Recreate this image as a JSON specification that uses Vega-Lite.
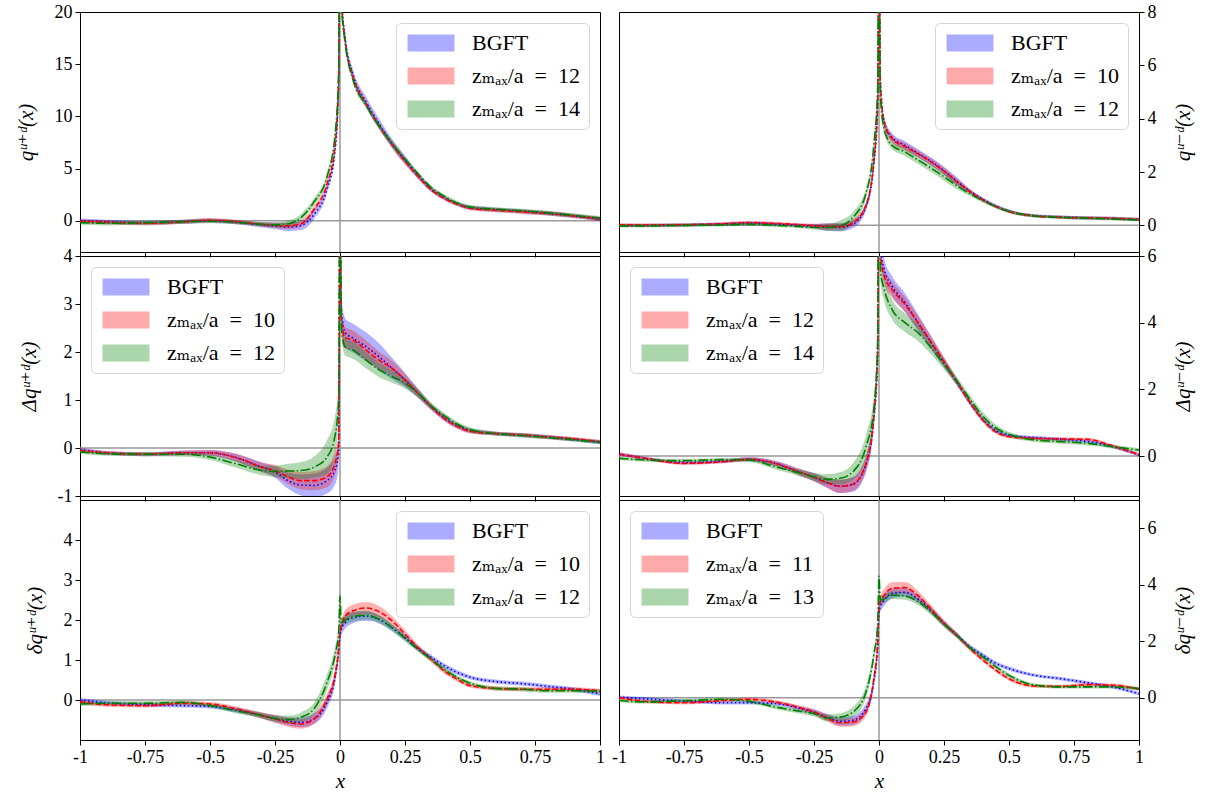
{
"$schema": "https://vega.github.io/schema/vega-lite/v6.json",
"background": "white",
"padding": {"left": 14, "top": 2, "right": 5, "bottom": 5},
"columns": 2,
"spacing": {"row": 4, "column": 19},
"bounds": "flush",
"resolve": {"scale": {"x": "independent", "y": "independent", "fill": "independent", "stroke": "independent", "strokeDash": "independent"}, "axis": {"x": "independent", "y": "independent"}, "legend": {"fill": "independent"}},
"config": {
  "font": "Liberation Serif, DejaVu Serif, serif",
  "view": {"stroke": "#000", "strokeWidth": 1},
  "axis": {"grid": false, "domain": false, "ticks": true, "tickColor": "#000", "tickSize": 5, "tickWidth": 1, "labelPadding": 3, "labelFont": "Liberation Serif, DejaVu Serif, serif", "labelFontSize": 18, "labelColor": "#000", "labelFlush": false, "labelOverlap": false, "titleFont": "Liberation Serif, DejaVu Serif, serif", "titleFontSize": 21, "titleFontWeight": "normal", "titleFontStyle": "italic", "titleColor": "#000", "titlePadding": 18},
  "legend": {"fillColor": "rgba(255,255,255,0.85)", "strokeColor": "#d5d5d5", "strokeWidth": 1, "cornerRadius": 5, "padding": 9, "offset": 11, "labelFont": "Liberation Serif, DejaVu Serif, serif", "labelFontSize": 22, "labelColor": "#000", "symbolType": "M-2.76,-1H2.76V1H-2.76Z", "symbolSize": 289, "symbolOpacity": 0.33, "symbolStrokeWidth": 0, "rowPadding": 11, "labelOffset": 30, "symbolOffset": 15}
},
"datasets": {"d": [
{"p":1,"s":"B","x":-1,"y":0,"l":-0.2,"h":0.2},
{"p":1,"s":"B","x":-0.9,"y":-0.1,"l":-0.3,"h":0.1},
{"p":1,"s":"B","x":-0.75,"y":-0.2,"l":-0.4,"h":0},
{"p":1,"s":"B","x":-0.6,"y":-0.1,"l":-0.3,"h":0.1},
{"p":1,"s":"B","x":-0.5,"y":0,"l":-0.2,"h":0.2},
{"p":1,"s":"B","x":-0.4,"y":-0.15,"l":-0.35,"h":0.05},
{"p":1,"s":"B","x":-0.3,"y":-0.4,"l":-0.65,"h":-0.15},
{"p":1,"s":"B","x":-0.25,"y":-0.5,"l":-0.8,"h":-0.2},
{"p":1,"s":"B","x":-0.2,"y":-0.6,"l":-1,"h":-0.2},
{"p":1,"s":"B","x":-0.15,"y":-0.45,"l":-0.9,"h":0},
{"p":1,"s":"B","x":-0.1,"y":0.6,"l":0.15,"h":1.05},
{"p":1,"s":"B","x":-0.05,"y":3,"l":2.6,"h":3.4},
{"p":1,"s":"B","x":-0.02,"y":6.5,"l":6.1,"h":6.9},
{"p":1,"s":"B","x":-0.005,"y":13,"l":12.5,"h":13.5},
{"p":1,"s":"B","x":0,"y":40,"l":39,"h":41},
{"p":1,"s":"B","x":0.005,"y":22,"l":21.5,"h":22.5},
{"p":1,"s":"B","x":0.02,"y":17.5,"l":17,"h":18},
{"p":1,"s":"B","x":0.05,"y":14,"l":13.5,"h":14.5},
{"p":1,"s":"B","x":0.1,"y":11.4,"l":10.9,"h":11.9},
{"p":1,"s":"B","x":0.15,"y":9.3,"l":8.8,"h":9.8},
{"p":1,"s":"B","x":0.2,"y":7.4,"l":6.95,"h":7.85},
{"p":1,"s":"B","x":0.25,"y":5.8,"l":5.4,"h":6.2},
{"p":1,"s":"B","x":0.3,"y":4.3,"l":4,"h":4.6},
{"p":1,"s":"B","x":0.35,"y":3,"l":2.75,"h":3.25},
{"p":1,"s":"B","x":0.4,"y":2.2,"l":2,"h":2.4},
{"p":1,"s":"B","x":0.45,"y":1.6,"l":1.4,"h":1.8},
{"p":1,"s":"B","x":0.5,"y":1.25,"l":1.05,"h":1.45},
{"p":1,"s":"B","x":0.6,"y":1.05,"l":0.85,"h":1.25},
{"p":1,"s":"B","x":0.7,"y":0.9,"l":0.7,"h":1.1},
{"p":1,"s":"B","x":0.8,"y":0.7,"l":0.5,"h":0.9},
{"p":1,"s":"B","x":0.9,"y":0.45,"l":0.25,"h":0.65},
{"p":1,"s":"B","x":1,"y":0.15,"l":-0.05,"h":0.35},
{"p":1,"s":"R","x":-1,"y":-0.05,"l":-0.25,"h":0.15},
{"p":1,"s":"R","x":-0.9,"y":-0.15,"l":-0.35,"h":0.05},
{"p":1,"s":"R","x":-0.75,"y":-0.25,"l":-0.45,"h":-0.05},
{"p":1,"s":"R","x":-0.6,"y":-0.1,"l":-0.3,"h":0.1},
{"p":1,"s":"R","x":-0.5,"y":0.05,"l":-0.15,"h":0.25},
{"p":1,"s":"R","x":-0.4,"y":-0.1,"l":-0.3,"h":0.1},
{"p":1,"s":"R","x":-0.3,"y":-0.35,"l":-0.55,"h":-0.15},
{"p":1,"s":"R","x":-0.25,"y":-0.45,"l":-0.7,"h":-0.2},
{"p":1,"s":"R","x":-0.2,"y":-0.5,"l":-0.8,"h":-0.2},
{"p":1,"s":"R","x":-0.15,"y":-0.3,"l":-0.6,"h":0},
{"p":1,"s":"R","x":-0.1,"y":1.1,"l":0.8,"h":1.4},
{"p":1,"s":"R","x":-0.05,"y":3.5,"l":3.2,"h":3.8},
{"p":1,"s":"R","x":-0.02,"y":7,"l":6.7,"h":7.3},
{"p":1,"s":"R","x":-0.005,"y":13.5,"l":13.2,"h":13.8},
{"p":1,"s":"R","x":0,"y":40,"l":39,"h":41},
{"p":1,"s":"R","x":0.005,"y":21.5,"l":21.2,"h":21.8},
{"p":1,"s":"R","x":0.02,"y":17.2,"l":16.9,"h":17.5},
{"p":1,"s":"R","x":0.05,"y":13.8,"l":13.5,"h":14.1},
{"p":1,"s":"R","x":0.1,"y":11.2,"l":10.9,"h":11.5},
{"p":1,"s":"R","x":0.15,"y":9.1,"l":8.8,"h":9.4},
{"p":1,"s":"R","x":0.2,"y":7.3,"l":7,"h":7.6},
{"p":1,"s":"R","x":0.25,"y":5.7,"l":5.4,"h":6},
{"p":1,"s":"R","x":0.3,"y":4.25,"l":4.05,"h":4.45},
{"p":1,"s":"R","x":0.35,"y":3,"l":2.8,"h":3.2},
{"p":1,"s":"R","x":0.4,"y":2.15,"l":1.95,"h":2.35},
{"p":1,"s":"R","x":0.45,"y":1.6,"l":1.4,"h":1.8},
{"p":1,"s":"R","x":0.5,"y":1.2,"l":1,"h":1.4},
{"p":1,"s":"R","x":0.6,"y":1,"l":0.8,"h":1.2},
{"p":1,"s":"R","x":0.7,"y":0.85,"l":0.65,"h":1.05},
{"p":1,"s":"R","x":0.8,"y":0.7,"l":0.5,"h":0.9},
{"p":1,"s":"R","x":0.9,"y":0.45,"l":0.25,"h":0.65},
{"p":1,"s":"R","x":1,"y":0.15,"l":-0.05,"h":0.35},
{"p":1,"s":"G","x":-1,"y":-0.2,"l":-0.4,"h":0},
{"p":1,"s":"G","x":-0.9,"y":-0.25,"l":-0.45,"h":-0.05},
{"p":1,"s":"G","x":-0.75,"y":-0.2,"l":-0.4,"h":0},
{"p":1,"s":"G","x":-0.6,"y":-0.1,"l":-0.3,"h":0.1},
{"p":1,"s":"G","x":-0.5,"y":-0.05,"l":-0.25,"h":0.15},
{"p":1,"s":"G","x":-0.4,"y":-0.15,"l":-0.35,"h":0.05},
{"p":1,"s":"G","x":-0.3,"y":-0.35,"l":-0.55,"h":-0.15},
{"p":1,"s":"G","x":-0.25,"y":-0.4,"l":-0.65,"h":-0.15},
{"p":1,"s":"G","x":-0.2,"y":-0.3,"l":-0.6,"h":0},
{"p":1,"s":"G","x":-0.15,"y":0.3,"l":-0.05,"h":0.65},
{"p":1,"s":"G","x":-0.1,"y":1.8,"l":1.45,"h":2.15},
{"p":1,"s":"G","x":-0.05,"y":4.2,"l":3.85,"h":4.55},
{"p":1,"s":"G","x":-0.02,"y":8,"l":7.6,"h":8.4},
{"p":1,"s":"G","x":-0.005,"y":14.5,"l":14,"h":15},
{"p":1,"s":"G","x":0,"y":40,"l":39,"h":41},
{"p":1,"s":"G","x":0.005,"y":21,"l":20.5,"h":21.5},
{"p":1,"s":"G","x":0.02,"y":17,"l":16.7,"h":17.3},
{"p":1,"s":"G","x":0.05,"y":13.5,"l":13.2,"h":13.8},
{"p":1,"s":"G","x":0.1,"y":11.1,"l":10.8,"h":11.4},
{"p":1,"s":"G","x":0.15,"y":9.1,"l":8.8,"h":9.4},
{"p":1,"s":"G","x":0.2,"y":7.4,"l":7.1,"h":7.7},
{"p":1,"s":"G","x":0.25,"y":5.9,"l":5.6,"h":6.2},
{"p":1,"s":"G","x":0.3,"y":4.5,"l":4.3,"h":4.7},
{"p":1,"s":"G","x":0.35,"y":3.2,"l":3,"h":3.4},
{"p":1,"s":"G","x":0.4,"y":2.35,"l":2.15,"h":2.55},
{"p":1,"s":"G","x":0.45,"y":1.7,"l":1.5,"h":1.9},
{"p":1,"s":"G","x":0.5,"y":1.3,"l":1.1,"h":1.5},
{"p":1,"s":"G","x":0.6,"y":1.1,"l":0.9,"h":1.3},
{"p":1,"s":"G","x":0.7,"y":0.95,"l":0.75,"h":1.15},
{"p":1,"s":"G","x":0.8,"y":0.75,"l":0.55,"h":0.95},
{"p":1,"s":"G","x":0.9,"y":0.5,"l":0.3,"h":0.7},
{"p":1,"s":"G","x":1,"y":0.25,"l":0.05,"h":0.45},
{"p":2,"s":"B","x":-1,"y":0,"l":-0.06,"h":0.06},
{"p":2,"s":"B","x":-0.9,"y":0,"l":-0.06,"h":0.06},
{"p":2,"s":"B","x":-0.75,"y":0.02,"l":-0.04,"h":0.08},
{"p":2,"s":"B","x":-0.6,"y":0.05,"l":-0.01,"h":0.11},
{"p":2,"s":"B","x":-0.5,"y":0.08,"l":0.02,"h":0.14},
{"p":2,"s":"B","x":-0.4,"y":0.05,"l":-0.01,"h":0.11},
{"p":2,"s":"B","x":-0.3,"y":0,"l":-0.06,"h":0.06},
{"p":2,"s":"B","x":-0.25,"y":-0.03,"l":-0.11,"h":0.05},
{"p":2,"s":"B","x":-0.2,"y":-0.06,"l":-0.21,"h":0.09},
{"p":2,"s":"B","x":-0.15,"y":-0.07,"l":-0.22,"h":0.08},
{"p":2,"s":"B","x":-0.1,"y":0.05,"l":-0.1,"h":0.2},
{"p":2,"s":"B","x":-0.05,"y":0.7,"l":0.55,"h":0.85},
{"p":2,"s":"B","x":-0.02,"y":2.3,"l":2.1,"h":2.5},
{"p":2,"s":"B","x":-0.005,"y":4.5,"l":4.3,"h":4.7},
{"p":2,"s":"B","x":0,"y":12,"l":11.8,"h":12.2},
{"p":2,"s":"B","x":0.005,"y":5.5,"l":5.3,"h":5.7},
{"p":2,"s":"B","x":0.02,"y":3.9,"l":3.75,"h":4.05},
{"p":2,"s":"B","x":0.05,"y":3.3,"l":3.15,"h":3.45},
{"p":2,"s":"B","x":0.1,"y":3,"l":2.85,"h":3.15},
{"p":2,"s":"B","x":0.15,"y":2.7,"l":2.55,"h":2.85},
{"p":2,"s":"B","x":0.2,"y":2.4,"l":2.25,"h":2.55},
{"p":2,"s":"B","x":0.25,"y":2.05,"l":1.9,"h":2.2},
{"p":2,"s":"B","x":0.3,"y":1.65,"l":1.5,"h":1.8},
{"p":2,"s":"B","x":0.35,"y":1.28,"l":1.2,"h":1.36},
{"p":2,"s":"B","x":0.4,"y":0.97,"l":0.9,"h":1.04},
{"p":2,"s":"B","x":0.45,"y":0.72,"l":0.65,"h":0.79},
{"p":2,"s":"B","x":0.5,"y":0.53,"l":0.47,"h":0.59},
{"p":2,"s":"B","x":0.6,"y":0.36,"l":0.3,"h":0.42},
{"p":2,"s":"B","x":0.7,"y":0.31,"l":0.25,"h":0.37},
{"p":2,"s":"B","x":0.8,"y":0.28,"l":0.22,"h":0.34},
{"p":2,"s":"B","x":0.9,"y":0.26,"l":0.2,"h":0.32},
{"p":2,"s":"B","x":1,"y":0.22,"l":0.16,"h":0.28},
{"p":2,"s":"R","x":-1,"y":0.02,"l":-0.04,"h":0.08},
{"p":2,"s":"R","x":-0.9,"y":0.01,"l":-0.05,"h":0.07},
{"p":2,"s":"R","x":-0.75,"y":0.02,"l":-0.04,"h":0.08},
{"p":2,"s":"R","x":-0.6,"y":0.06,"l":0,"h":0.12},
{"p":2,"s":"R","x":-0.5,"y":0.1,"l":0.04,"h":0.16},
{"p":2,"s":"R","x":-0.4,"y":0.07,"l":0.01,"h":0.13},
{"p":2,"s":"R","x":-0.3,"y":0.02,"l":-0.04,"h":0.08},
{"p":2,"s":"R","x":-0.25,"y":-0.02,"l":-0.1,"h":0.06},
{"p":2,"s":"R","x":-0.2,"y":-0.05,"l":-0.17,"h":0.07},
{"p":2,"s":"R","x":-0.15,"y":-0.05,"l":-0.17,"h":0.07},
{"p":2,"s":"R","x":-0.1,"y":0.1,"l":-0.02,"h":0.22},
{"p":2,"s":"R","x":-0.05,"y":0.75,"l":0.63,"h":0.87},
{"p":2,"s":"R","x":-0.02,"y":2.4,"l":2.2,"h":2.6},
{"p":2,"s":"R","x":-0.005,"y":4.6,"l":4.4,"h":4.8},
{"p":2,"s":"R","x":0,"y":12,"l":11.8,"h":12.2},
{"p":2,"s":"R","x":0.005,"y":5.4,"l":5.2,"h":5.6},
{"p":2,"s":"R","x":0.02,"y":3.85,"l":3.7,"h":4},
{"p":2,"s":"R","x":0.05,"y":3.25,"l":3.1,"h":3.4},
{"p":2,"s":"R","x":0.1,"y":2.95,"l":2.8,"h":3.1},
{"p":2,"s":"R","x":0.15,"y":2.68,"l":2.55,"h":2.81},
{"p":2,"s":"R","x":0.2,"y":2.38,"l":2.25,"h":2.51},
{"p":2,"s":"R","x":0.25,"y":2.03,"l":1.9,"h":2.16},
{"p":2,"s":"R","x":0.3,"y":1.63,"l":1.5,"h":1.76},
{"p":2,"s":"R","x":0.35,"y":1.26,"l":1.18,"h":1.34},
{"p":2,"s":"R","x":0.4,"y":0.95,"l":0.88,"h":1.02},
{"p":2,"s":"R","x":0.45,"y":0.7,"l":0.64,"h":0.76},
{"p":2,"s":"R","x":0.5,"y":0.52,"l":0.46,"h":0.58},
{"p":2,"s":"R","x":0.6,"y":0.35,"l":0.29,"h":0.41},
{"p":2,"s":"R","x":0.7,"y":0.3,"l":0.24,"h":0.36},
{"p":2,"s":"R","x":0.8,"y":0.28,"l":0.22,"h":0.34},
{"p":2,"s":"R","x":0.9,"y":0.26,"l":0.2,"h":0.32},
{"p":2,"s":"R","x":1,"y":0.22,"l":0.16,"h":0.28},
{"p":2,"s":"G","x":-1,"y":-0.02,"l":-0.08,"h":0.04},
{"p":2,"s":"G","x":-0.9,"y":-0.02,"l":-0.08,"h":0.04},
{"p":2,"s":"G","x":-0.75,"y":0,"l":-0.06,"h":0.06},
{"p":2,"s":"G","x":-0.6,"y":0.02,"l":-0.04,"h":0.08},
{"p":2,"s":"G","x":-0.5,"y":0.04,"l":-0.02,"h":0.1},
{"p":2,"s":"G","x":-0.4,"y":0,"l":-0.06,"h":0.06},
{"p":2,"s":"G","x":-0.3,"y":-0.05,"l":-0.11,"h":0.01},
{"p":2,"s":"G","x":-0.25,"y":-0.08,"l":-0.16,"h":0},
{"p":2,"s":"G","x":-0.2,"y":-0.08,"l":-0.2,"h":0.04},
{"p":2,"s":"G","x":-0.15,"y":-0.02,"l":-0.22,"h":0.18},
{"p":2,"s":"G","x":-0.1,"y":0.3,"l":0.1,"h":0.5},
{"p":2,"s":"G","x":-0.05,"y":1.2,"l":1,"h":1.4},
{"p":2,"s":"G","x":-0.02,"y":3,"l":2.8,"h":3.2},
{"p":2,"s":"G","x":-0.005,"y":5.2,"l":5,"h":5.4},
{"p":2,"s":"G","x":0,"y":12,"l":11.8,"h":12.2},
{"p":2,"s":"G","x":0.005,"y":4.9,"l":4.7,"h":5.1},
{"p":2,"s":"G","x":0.02,"y":3.6,"l":3.45,"h":3.75},
{"p":2,"s":"G","x":0.05,"y":3,"l":2.85,"h":3.15},
{"p":2,"s":"G","x":0.1,"y":2.75,"l":2.6,"h":2.9},
{"p":2,"s":"G","x":0.15,"y":2.45,"l":2.3,"h":2.6},
{"p":2,"s":"G","x":0.2,"y":2.15,"l":2,"h":2.3},
{"p":2,"s":"G","x":0.25,"y":1.82,"l":1.67,"h":1.97},
{"p":2,"s":"G","x":0.3,"y":1.48,"l":1.35,"h":1.61},
{"p":2,"s":"G","x":0.35,"y":1.18,"l":1.1,"h":1.26},
{"p":2,"s":"G","x":0.4,"y":0.92,"l":0.85,"h":0.99},
{"p":2,"s":"G","x":0.45,"y":0.7,"l":0.64,"h":0.76},
{"p":2,"s":"G","x":0.5,"y":0.52,"l":0.46,"h":0.58},
{"p":2,"s":"G","x":0.6,"y":0.35,"l":0.29,"h":0.41},
{"p":2,"s":"G","x":0.7,"y":0.3,"l":0.24,"h":0.36},
{"p":2,"s":"G","x":0.8,"y":0.27,"l":0.21,"h":0.33},
{"p":2,"s":"G","x":0.9,"y":0.24,"l":0.18,"h":0.3},
{"p":2,"s":"G","x":1,"y":0.2,"l":0.14,"h":0.26},
{"p":3,"s":"B","x":-1,"y":-0.03,"l":-0.07,"h":0.01},
{"p":3,"s":"B","x":-0.9,"y":-0.1,"l":-0.14,"h":-0.06},
{"p":3,"s":"B","x":-0.75,"y":-0.13,"l":-0.17,"h":-0.09},
{"p":3,"s":"B","x":-0.6,"y":-0.1,"l":-0.15,"h":-0.05},
{"p":3,"s":"B","x":-0.5,"y":-0.1,"l":-0.16,"h":-0.04},
{"p":3,"s":"B","x":-0.4,"y":-0.2,"l":-0.28,"h":-0.12},
{"p":3,"s":"B","x":-0.3,"y":-0.4,"l":-0.5,"h":-0.3},
{"p":3,"s":"B","x":-0.25,"y":-0.5,"l":-0.62,"h":-0.38},
{"p":3,"s":"B","x":-0.2,"y":-0.68,"l":-0.85,"h":-0.51},
{"p":3,"s":"B","x":-0.15,"y":-0.77,"l":-0.99,"h":-0.55},
{"p":3,"s":"B","x":-0.1,"y":-0.78,"l":-1.03,"h":-0.53},
{"p":3,"s":"B","x":-0.05,"y":-0.68,"l":-0.95,"h":-0.41},
{"p":3,"s":"B","x":-0.02,"y":-0.47,"l":-0.77,"h":-0.17},
{"p":3,"s":"B","x":-0.005,"y":-0.1,"l":-0.4,"h":0.2},
{"p":3,"s":"B","x":0,"y":6,"l":5.7,"h":6.3},
{"p":3,"s":"B","x":0.005,"y":2.9,"l":2.6,"h":3.2},
{"p":3,"s":"B","x":0.02,"y":2.4,"l":2.1,"h":2.7},
{"p":3,"s":"B","x":0.05,"y":2.29,"l":1.99,"h":2.59},
{"p":3,"s":"B","x":0.1,"y":2.11,"l":1.81,"h":2.41},
{"p":3,"s":"B","x":0.15,"y":1.9,"l":1.62,"h":2.18},
{"p":3,"s":"B","x":0.2,"y":1.66,"l":1.44,"h":1.88},
{"p":3,"s":"B","x":0.25,"y":1.42,"l":1.27,"h":1.57},
{"p":3,"s":"B","x":0.3,"y":1.14,"l":1.04,"h":1.24},
{"p":3,"s":"B","x":0.35,"y":0.86,"l":0.79,"h":0.93},
{"p":3,"s":"B","x":0.4,"y":0.63,"l":0.57,"h":0.69},
{"p":3,"s":"B","x":0.45,"y":0.46,"l":0.41,"h":0.51},
{"p":3,"s":"B","x":0.5,"y":0.36,"l":0.31,"h":0.41},
{"p":3,"s":"B","x":0.6,"y":0.3,"l":0.26,"h":0.34},
{"p":3,"s":"B","x":0.7,"y":0.27,"l":0.23,"h":0.31},
{"p":3,"s":"B","x":0.8,"y":0.23,"l":0.19,"h":0.27},
{"p":3,"s":"B","x":0.9,"y":0.18,"l":0.14,"h":0.22},
{"p":3,"s":"B","x":1,"y":0.12,"l":0.08,"h":0.16},
{"p":3,"s":"R","x":-1,"y":-0.05,"l":-0.09,"h":-0.01},
{"p":3,"s":"R","x":-0.9,"y":-0.1,"l":-0.14,"h":-0.06},
{"p":3,"s":"R","x":-0.75,"y":-0.13,"l":-0.17,"h":-0.09},
{"p":3,"s":"R","x":-0.6,"y":-0.1,"l":-0.15,"h":-0.05},
{"p":3,"s":"R","x":-0.5,"y":-0.1,"l":-0.16,"h":-0.04},
{"p":3,"s":"R","x":-0.4,"y":-0.2,"l":-0.28,"h":-0.12},
{"p":3,"s":"R","x":-0.3,"y":-0.4,"l":-0.5,"h":-0.3},
{"p":3,"s":"R","x":-0.25,"y":-0.47,"l":-0.59,"h":-0.35},
{"p":3,"s":"R","x":-0.2,"y":-0.6,"l":-0.75,"h":-0.45},
{"p":3,"s":"R","x":-0.15,"y":-0.68,"l":-0.86,"h":-0.5},
{"p":3,"s":"R","x":-0.1,"y":-0.68,"l":-0.88,"h":-0.48},
{"p":3,"s":"R","x":-0.05,"y":-0.6,"l":-0.82,"h":-0.38},
{"p":3,"s":"R","x":-0.02,"y":-0.33,"l":-0.58,"h":-0.08},
{"p":3,"s":"R","x":-0.005,"y":0.1,"l":-0.15,"h":0.35},
{"p":3,"s":"R","x":0,"y":6,"l":5.75,"h":6.25},
{"p":3,"s":"R","x":0.005,"y":2.7,"l":2.45,"h":2.95},
{"p":3,"s":"R","x":0.02,"y":2.3,"l":2.08,"h":2.52},
{"p":3,"s":"R","x":0.05,"y":2.25,"l":2.05,"h":2.45},
{"p":3,"s":"R","x":0.1,"y":2.04,"l":1.84,"h":2.24},
{"p":3,"s":"R","x":0.15,"y":1.83,"l":1.65,"h":2.01},
{"p":3,"s":"R","x":0.2,"y":1.66,"l":1.51,"h":1.81},
{"p":3,"s":"R","x":0.25,"y":1.42,"l":1.3,"h":1.54},
{"p":3,"s":"R","x":0.3,"y":1.14,"l":1.06,"h":1.22},
{"p":3,"s":"R","x":0.35,"y":0.86,"l":0.8,"h":0.92},
{"p":3,"s":"R","x":0.4,"y":0.62,"l":0.57,"h":0.67},
{"p":3,"s":"R","x":0.45,"y":0.45,"l":0.4,"h":0.5},
{"p":3,"s":"R","x":0.5,"y":0.35,"l":0.3,"h":0.4},
{"p":3,"s":"R","x":0.6,"y":0.3,"l":0.26,"h":0.34},
{"p":3,"s":"R","x":0.7,"y":0.27,"l":0.23,"h":0.31},
{"p":3,"s":"R","x":0.8,"y":0.23,"l":0.19,"h":0.27},
{"p":3,"s":"R","x":0.9,"y":0.19,"l":0.15,"h":0.23},
{"p":3,"s":"R","x":1,"y":0.13,"l":0.09,"h":0.17},
{"p":3,"s":"G","x":-1,"y":-0.08,"l":-0.12,"h":-0.04},
{"p":3,"s":"G","x":-0.9,"y":-0.12,"l":-0.16,"h":-0.08},
{"p":3,"s":"G","x":-0.75,"y":-0.13,"l":-0.17,"h":-0.09},
{"p":3,"s":"G","x":-0.6,"y":-0.13,"l":-0.18,"h":-0.08},
{"p":3,"s":"G","x":-0.5,"y":-0.19,"l":-0.25,"h":-0.13},
{"p":3,"s":"G","x":-0.4,"y":-0.33,"l":-0.41,"h":-0.25},
{"p":3,"s":"G","x":-0.3,"y":-0.47,"l":-0.57,"h":-0.37},
{"p":3,"s":"G","x":-0.25,"y":-0.49,"l":-0.61,"h":-0.37},
{"p":3,"s":"G","x":-0.2,"y":-0.48,"l":-0.63,"h":-0.33},
{"p":3,"s":"G","x":-0.15,"y":-0.47,"l":-0.65,"h":-0.29},
{"p":3,"s":"G","x":-0.1,"y":-0.4,"l":-0.62,"h":-0.18},
{"p":3,"s":"G","x":-0.05,"y":-0.19,"l":-0.54,"h":0.16},
{"p":3,"s":"G","x":-0.02,"y":0.23,"l":-0.17,"h":0.63},
{"p":3,"s":"G","x":-0.005,"y":1,"l":0.6,"h":1.4},
{"p":3,"s":"G","x":0,"y":6,"l":5.7,"h":6.3},
{"p":3,"s":"G","x":0.005,"y":2.5,"l":2.3,"h":2.7},
{"p":3,"s":"G","x":0.02,"y":2.1,"l":1.92,"h":2.28},
{"p":3,"s":"G","x":0.05,"y":2.04,"l":1.86,"h":2.22},
{"p":3,"s":"G","x":0.1,"y":1.83,"l":1.66,"h":2},
{"p":3,"s":"G","x":0.15,"y":1.63,"l":1.48,"h":1.78},
{"p":3,"s":"G","x":0.2,"y":1.49,"l":1.36,"h":1.62},
{"p":3,"s":"G","x":0.25,"y":1.35,"l":1.24,"h":1.46},
{"p":3,"s":"G","x":0.3,"y":1.14,"l":1.05,"h":1.23},
{"p":3,"s":"G","x":0.35,"y":0.88,"l":0.81,"h":0.95},
{"p":3,"s":"G","x":0.4,"y":0.68,"l":0.62,"h":0.74},
{"p":3,"s":"G","x":0.45,"y":0.5,"l":0.45,"h":0.55},
{"p":3,"s":"G","x":0.5,"y":0.38,"l":0.33,"h":0.43},
{"p":3,"s":"G","x":0.6,"y":0.3,"l":0.26,"h":0.34},
{"p":3,"s":"G","x":0.7,"y":0.26,"l":0.22,"h":0.3},
{"p":3,"s":"G","x":0.8,"y":0.22,"l":0.18,"h":0.26},
{"p":3,"s":"G","x":0.9,"y":0.17,"l":0.13,"h":0.21},
{"p":3,"s":"G","x":1,"y":0.12,"l":0.08,"h":0.16},
{"p":4,"s":"B","x":-1,"y":0.06,"l":0.01,"h":0.11},
{"p":4,"s":"B","x":-0.9,"y":-0.07,"l":-0.12,"h":-0.02},
{"p":4,"s":"B","x":-0.75,"y":-0.2,"l":-0.25,"h":-0.15},
{"p":4,"s":"B","x":-0.6,"y":-0.16,"l":-0.21,"h":-0.11},
{"p":4,"s":"B","x":-0.5,"y":-0.1,"l":-0.16,"h":-0.04},
{"p":4,"s":"B","x":-0.4,"y":-0.22,"l":-0.3,"h":-0.14},
{"p":4,"s":"B","x":-0.3,"y":-0.5,"l":-0.6,"h":-0.4},
{"p":4,"s":"B","x":-0.25,"y":-0.64,"l":-0.76,"h":-0.52},
{"p":4,"s":"B","x":-0.2,"y":-0.8,"l":-0.95,"h":-0.65},
{"p":4,"s":"B","x":-0.15,"y":-0.91,"l":-1.11,"h":-0.71},
{"p":4,"s":"B","x":-0.1,"y":-0.85,"l":-1.07,"h":-0.63},
{"p":4,"s":"B","x":-0.05,"y":-0.25,"l":-0.5,"h":0},
{"p":4,"s":"B","x":-0.02,"y":1.1,"l":0.85,"h":1.35},
{"p":4,"s":"B","x":-0.005,"y":3,"l":2.75,"h":3.25},
{"p":4,"s":"B","x":0,"y":10,"l":9.7,"h":10.3},
{"p":4,"s":"B","x":0.005,"y":6.3,"l":6,"h":6.6},
{"p":4,"s":"B","x":0.02,"y":5.6,"l":5.3,"h":5.9},
{"p":4,"s":"B","x":0.05,"y":5.1,"l":4.8,"h":5.4},
{"p":4,"s":"B","x":0.1,"y":4.6,"l":4.32,"h":4.88},
{"p":4,"s":"B","x":0.15,"y":4,"l":3.75,"h":4.25},
{"p":4,"s":"B","x":0.2,"y":3.4,"l":3.2,"h":3.6},
{"p":4,"s":"B","x":0.25,"y":2.8,"l":2.65,"h":2.95},
{"p":4,"s":"B","x":0.3,"y":2.2,"l":2.1,"h":2.3},
{"p":4,"s":"B","x":0.35,"y":1.6,"l":1.52,"h":1.68},
{"p":4,"s":"B","x":0.4,"y":1.09,"l":1.02,"h":1.16},
{"p":4,"s":"B","x":0.45,"y":0.76,"l":0.7,"h":0.82},
{"p":4,"s":"B","x":0.5,"y":0.62,"l":0.57,"h":0.67},
{"p":4,"s":"B","x":0.6,"y":0.55,"l":0.5,"h":0.6},
{"p":4,"s":"B","x":0.7,"y":0.5,"l":0.45,"h":0.55},
{"p":4,"s":"B","x":0.8,"y":0.44,"l":0.39,"h":0.49},
{"p":4,"s":"B","x":0.9,"y":0.28,"l":0.23,"h":0.33},
{"p":4,"s":"B","x":1,"y":0.03,"l":-0.02,"h":0.08},
{"p":4,"s":"R","x":-1,"y":0.06,"l":0.01,"h":0.11},
{"p":4,"s":"R","x":-0.9,"y":-0.07,"l":-0.12,"h":-0.02},
{"p":4,"s":"R","x":-0.75,"y":-0.22,"l":-0.27,"h":-0.17},
{"p":4,"s":"R","x":-0.6,"y":-0.17,"l":-0.22,"h":-0.12},
{"p":4,"s":"R","x":-0.5,"y":-0.1,"l":-0.16,"h":-0.04},
{"p":4,"s":"R","x":-0.4,"y":-0.22,"l":-0.3,"h":-0.14},
{"p":4,"s":"R","x":-0.3,"y":-0.5,"l":-0.6,"h":-0.4},
{"p":4,"s":"R","x":-0.25,"y":-0.64,"l":-0.76,"h":-0.52},
{"p":4,"s":"R","x":-0.2,"y":-0.8,"l":-0.95,"h":-0.65},
{"p":4,"s":"R","x":-0.15,"y":-0.91,"l":-1.11,"h":-0.71},
{"p":4,"s":"R","x":-0.1,"y":-0.84,"l":-1.04,"h":-0.64},
{"p":4,"s":"R","x":-0.05,"y":-0.22,"l":-0.44,"h":0},
{"p":4,"s":"R","x":-0.02,"y":1.19,"l":0.97,"h":1.41},
{"p":4,"s":"R","x":-0.005,"y":3.2,"l":2.98,"h":3.42},
{"p":4,"s":"R","x":0,"y":10,"l":9.7,"h":10.3},
{"p":4,"s":"R","x":0.005,"y":6.1,"l":5.85,"h":6.35},
{"p":4,"s":"R","x":0.02,"y":5.4,"l":5.15,"h":5.65},
{"p":4,"s":"R","x":0.05,"y":5,"l":4.75,"h":5.25},
{"p":4,"s":"R","x":0.1,"y":4.55,"l":4.33,"h":4.77},
{"p":4,"s":"R","x":0.15,"y":4,"l":3.8,"h":4.2},
{"p":4,"s":"R","x":0.2,"y":3.42,"l":3.25,"h":3.59},
{"p":4,"s":"R","x":0.25,"y":2.83,"l":2.69,"h":2.97},
{"p":4,"s":"R","x":0.3,"y":2.22,"l":2.12,"h":2.32},
{"p":4,"s":"R","x":0.35,"y":1.6,"l":1.52,"h":1.68},
{"p":4,"s":"R","x":0.4,"y":1.07,"l":1,"h":1.14},
{"p":4,"s":"R","x":0.45,"y":0.72,"l":0.66,"h":0.78},
{"p":4,"s":"R","x":0.5,"y":0.58,"l":0.53,"h":0.63},
{"p":4,"s":"R","x":0.6,"y":0.53,"l":0.48,"h":0.58},
{"p":4,"s":"R","x":0.7,"y":0.51,"l":0.46,"h":0.56},
{"p":4,"s":"R","x":0.8,"y":0.5,"l":0.45,"h":0.55},
{"p":4,"s":"R","x":0.9,"y":0.3,"l":0.25,"h":0.35},
{"p":4,"s":"R","x":1,"y":0.04,"l":-0.01,"h":0.09},
{"p":4,"s":"G","x":-1,"y":-0.07,"l":-0.12,"h":-0.02},
{"p":4,"s":"G","x":-0.9,"y":-0.12,"l":-0.17,"h":-0.07},
{"p":4,"s":"G","x":-0.75,"y":-0.14,"l":-0.19,"h":-0.09},
{"p":4,"s":"G","x":-0.6,"y":-0.11,"l":-0.16,"h":-0.06},
{"p":4,"s":"G","x":-0.5,"y":-0.12,"l":-0.18,"h":-0.06},
{"p":4,"s":"G","x":-0.4,"y":-0.32,"l":-0.4,"h":-0.24},
{"p":4,"s":"G","x":-0.3,"y":-0.52,"l":-0.62,"h":-0.42},
{"p":4,"s":"G","x":-0.25,"y":-0.62,"l":-0.74,"h":-0.5},
{"p":4,"s":"G","x":-0.2,"y":-0.7,"l":-0.85,"h":-0.55},
{"p":4,"s":"G","x":-0.15,"y":-0.67,"l":-0.85,"h":-0.49},
{"p":4,"s":"G","x":-0.1,"y":-0.47,"l":-0.72,"h":-0.22},
{"p":4,"s":"G","x":-0.05,"y":0.28,"l":-0.07,"h":0.63},
{"p":4,"s":"G","x":-0.02,"y":1.39,"l":0.99,"h":1.79},
{"p":4,"s":"G","x":-0.005,"y":3.5,"l":3.1,"h":3.9},
{"p":4,"s":"G","x":0,"y":10,"l":9.7,"h":10.3},
{"p":4,"s":"G","x":0.005,"y":5.6,"l":5.25,"h":5.95},
{"p":4,"s":"G","x":0.02,"y":5,"l":4.65,"h":5.35},
{"p":4,"s":"G","x":0.05,"y":4.4,"l":4.1,"h":4.7},
{"p":4,"s":"G","x":0.1,"y":4,"l":3.72,"h":4.28},
{"p":4,"s":"G","x":0.15,"y":3.7,"l":3.45,"h":3.95},
{"p":4,"s":"G","x":0.2,"y":3.25,"l":3.05,"h":3.45},
{"p":4,"s":"G","x":0.25,"y":2.75,"l":2.6,"h":2.9},
{"p":4,"s":"G","x":0.3,"y":2.25,"l":2.13,"h":2.37},
{"p":4,"s":"G","x":0.35,"y":1.7,"l":1.58,"h":1.82},
{"p":4,"s":"G","x":0.4,"y":1.19,"l":1.07,"h":1.31},
{"p":4,"s":"G","x":0.45,"y":0.84,"l":0.74,"h":0.94},
{"p":4,"s":"G","x":0.5,"y":0.65,"l":0.57,"h":0.73},
{"p":4,"s":"G","x":0.6,"y":0.48,"l":0.42,"h":0.54},
{"p":4,"s":"G","x":0.7,"y":0.43,"l":0.37,"h":0.49},
{"p":4,"s":"G","x":0.8,"y":0.38,"l":0.32,"h":0.44},
{"p":4,"s":"G","x":0.9,"y":0.28,"l":0.22,"h":0.34},
{"p":4,"s":"G","x":1,"y":0.18,"l":0.12,"h":0.24},
{"p":5,"s":"B","x":-1,"y":0,"l":-0.05,"h":0.05},
{"p":5,"s":"B","x":-0.9,"y":-0.07,"l":-0.12,"h":-0.02},
{"p":5,"s":"B","x":-0.75,"y":-0.12,"l":-0.17,"h":-0.07},
{"p":5,"s":"B","x":-0.6,"y":-0.14,"l":-0.19,"h":-0.09},
{"p":5,"s":"B","x":-0.5,"y":-0.16,"l":-0.21,"h":-0.11},
{"p":5,"s":"B","x":-0.4,"y":-0.25,"l":-0.31,"h":-0.19},
{"p":5,"s":"B","x":-0.3,"y":-0.39,"l":-0.46,"h":-0.32},
{"p":5,"s":"B","x":-0.25,"y":-0.47,"l":-0.55,"h":-0.39},
{"p":5,"s":"B","x":-0.2,"y":-0.53,"l":-0.63,"h":-0.43},
{"p":5,"s":"B","x":-0.15,"y":-0.56,"l":-0.68,"h":-0.44},
{"p":5,"s":"B","x":-0.1,"y":-0.47,"l":-0.6,"h":-0.34},
{"p":5,"s":"B","x":-0.05,"y":-0.06,"l":-0.2,"h":0.08},
{"p":5,"s":"B","x":-0.02,"y":0.52,"l":0.37,"h":0.67},
{"p":5,"s":"B","x":-0.005,"y":1.2,"l":1.05,"h":1.35},
{"p":5,"s":"B","x":0,"y":1.6,"l":1.45,"h":1.75},
{"p":5,"s":"B","x":0.005,"y":1.77,"l":1.61,"h":1.93},
{"p":5,"s":"B","x":0.02,"y":1.94,"l":1.78,"h":2.1},
{"p":5,"s":"B","x":0.05,"y":2.06,"l":1.92,"h":2.2},
{"p":5,"s":"B","x":0.1,"y":2.1,"l":1.98,"h":2.22},
{"p":5,"s":"B","x":0.15,"y":2.02,"l":1.92,"h":2.12},
{"p":5,"s":"B","x":0.2,"y":1.81,"l":1.73,"h":1.89},
{"p":5,"s":"B","x":0.25,"y":1.56,"l":1.49,"h":1.63},
{"p":5,"s":"B","x":0.3,"y":1.29,"l":1.23,"h":1.35},
{"p":5,"s":"B","x":0.35,"y":1.07,"l":1.01,"h":1.13},
{"p":5,"s":"B","x":0.4,"y":0.86,"l":0.8,"h":0.92},
{"p":5,"s":"B","x":0.45,"y":0.69,"l":0.63,"h":0.75},
{"p":5,"s":"B","x":0.5,"y":0.57,"l":0.52,"h":0.62},
{"p":5,"s":"B","x":0.6,"y":0.46,"l":0.41,"h":0.51},
{"p":5,"s":"B","x":0.7,"y":0.41,"l":0.36,"h":0.46},
{"p":5,"s":"B","x":0.8,"y":0.34,"l":0.29,"h":0.39},
{"p":5,"s":"B","x":0.9,"y":0.27,"l":0.22,"h":0.32},
{"p":5,"s":"B","x":1,"y":0.15,"l":0.1,"h":0.2},
{"p":5,"s":"R","x":-1,"y":-0.04,"l":-0.09,"h":0.01},
{"p":5,"s":"R","x":-0.9,"y":-0.12,"l":-0.17,"h":-0.07},
{"p":5,"s":"R","x":-0.75,"y":-0.14,"l":-0.19,"h":-0.09},
{"p":5,"s":"R","x":-0.6,"y":-0.08,"l":-0.13,"h":-0.03},
{"p":5,"s":"R","x":-0.5,"y":-0.1,"l":-0.15,"h":-0.05},
{"p":5,"s":"R","x":-0.4,"y":-0.22,"l":-0.28,"h":-0.16},
{"p":5,"s":"R","x":-0.3,"y":-0.39,"l":-0.47,"h":-0.31},
{"p":5,"s":"R","x":-0.25,"y":-0.47,"l":-0.57,"h":-0.37},
{"p":5,"s":"R","x":-0.2,"y":-0.56,"l":-0.67,"h":-0.45},
{"p":5,"s":"R","x":-0.15,"y":-0.6,"l":-0.72,"h":-0.48},
{"p":5,"s":"R","x":-0.1,"y":-0.47,"l":-0.6,"h":-0.34},
{"p":5,"s":"R","x":-0.05,"y":0.02,"l":-0.12,"h":0.16},
{"p":5,"s":"R","x":-0.02,"y":0.6,"l":0.45,"h":0.75},
{"p":5,"s":"R","x":-0.005,"y":1.3,"l":1.15,"h":1.45},
{"p":5,"s":"R","x":0,"y":1.7,"l":1.55,"h":1.85},
{"p":5,"s":"R","x":0.005,"y":1.85,"l":1.7,"h":2},
{"p":5,"s":"R","x":0.02,"y":2.1,"l":1.95,"h":2.25},
{"p":5,"s":"R","x":0.05,"y":2.23,"l":2.08,"h":2.38},
{"p":5,"s":"R","x":0.1,"y":2.3,"l":2.15,"h":2.45},
{"p":5,"s":"R","x":0.15,"y":2.21,"l":2.07,"h":2.35},
{"p":5,"s":"R","x":0.2,"y":1.98,"l":1.86,"h":2.1},
{"p":5,"s":"R","x":0.25,"y":1.65,"l":1.55,"h":1.75},
{"p":5,"s":"R","x":0.3,"y":1.31,"l":1.23,"h":1.39},
{"p":5,"s":"R","x":0.35,"y":1.02,"l":0.95,"h":1.09},
{"p":5,"s":"R","x":0.4,"y":0.73,"l":0.66,"h":0.8},
{"p":5,"s":"R","x":0.45,"y":0.52,"l":0.46,"h":0.58},
{"p":5,"s":"R","x":0.5,"y":0.36,"l":0.31,"h":0.41},
{"p":5,"s":"R","x":0.6,"y":0.29,"l":0.24,"h":0.34},
{"p":5,"s":"R","x":0.7,"y":0.27,"l":0.22,"h":0.32},
{"p":5,"s":"R","x":0.8,"y":0.27,"l":0.22,"h":0.32},
{"p":5,"s":"R","x":0.9,"y":0.27,"l":0.22,"h":0.32},
{"p":5,"s":"R","x":1,"y":0.23,"l":0.18,"h":0.28},
{"p":5,"s":"G","x":-1,"y":-0.1,"l":-0.15,"h":-0.05},
{"p":5,"s":"G","x":-0.9,"y":-0.08,"l":-0.13,"h":-0.03},
{"p":5,"s":"G","x":-0.75,"y":-0.08,"l":-0.13,"h":-0.03},
{"p":5,"s":"G","x":-0.6,"y":-0.06,"l":-0.11,"h":-0.01},
{"p":5,"s":"G","x":-0.5,"y":-0.14,"l":-0.19,"h":-0.09},
{"p":5,"s":"G","x":-0.4,"y":-0.27,"l":-0.33,"h":-0.21},
{"p":5,"s":"G","x":-0.3,"y":-0.39,"l":-0.46,"h":-0.32},
{"p":5,"s":"G","x":-0.25,"y":-0.46,"l":-0.54,"h":-0.38},
{"p":5,"s":"G","x":-0.2,"y":-0.49,"l":-0.59,"h":-0.39},
{"p":5,"s":"G","x":-0.15,"y":-0.43,"l":-0.55,"h":-0.31},
{"p":5,"s":"G","x":-0.1,"y":-0.22,"l":-0.37,"h":-0.07},
{"p":5,"s":"G","x":-0.05,"y":0.44,"l":0.24,"h":0.64},
{"p":5,"s":"G","x":-0.02,"y":1.1,"l":0.9,"h":1.3},
{"p":5,"s":"G","x":-0.005,"y":1.7,"l":1.5,"h":1.9},
{"p":5,"s":"G","x":0,"y":2.6,"l":2.5,"h":2.7},
{"p":5,"s":"G","x":0.005,"y":1.94,"l":1.82,"h":2.06},
{"p":5,"s":"G","x":0.02,"y":2,"l":1.88,"h":2.12},
{"p":5,"s":"G","x":0.05,"y":2.08,"l":1.96,"h":2.2},
{"p":5,"s":"G","x":0.1,"y":2.12,"l":2.01,"h":2.23},
{"p":5,"s":"G","x":0.15,"y":2.02,"l":1.92,"h":2.12},
{"p":5,"s":"G","x":0.2,"y":1.81,"l":1.72,"h":1.9},
{"p":5,"s":"G","x":0.25,"y":1.54,"l":1.46,"h":1.62},
{"p":5,"s":"G","x":0.3,"y":1.27,"l":1.2,"h":1.34},
{"p":5,"s":"G","x":0.35,"y":1.02,"l":0.96,"h":1.08},
{"p":5,"s":"G","x":0.4,"y":0.77,"l":0.71,"h":0.83},
{"p":5,"s":"G","x":0.45,"y":0.57,"l":0.52,"h":0.62},
{"p":5,"s":"G","x":0.5,"y":0.42,"l":0.37,"h":0.47},
{"p":5,"s":"G","x":0.6,"y":0.29,"l":0.24,"h":0.34},
{"p":5,"s":"G","x":0.7,"y":0.27,"l":0.22,"h":0.32},
{"p":5,"s":"G","x":0.8,"y":0.23,"l":0.18,"h":0.28},
{"p":5,"s":"G","x":0.9,"y":0.23,"l":0.18,"h":0.28},
{"p":5,"s":"G","x":1,"y":0.22,"l":0.17,"h":0.27},
{"p":6,"s":"B","x":-1,"y":0.02,"l":-0.04,"h":0.08},
{"p":6,"s":"B","x":-0.9,"y":-0.04,"l":-0.1,"h":0.02},
{"p":6,"s":"B","x":-0.75,"y":-0.12,"l":-0.18,"h":-0.06},
{"p":6,"s":"B","x":-0.6,"y":-0.18,"l":-0.24,"h":-0.12},
{"p":6,"s":"B","x":-0.5,"y":-0.18,"l":-0.24,"h":-0.12},
{"p":6,"s":"B","x":-0.4,"y":-0.21,"l":-0.28,"h":-0.14},
{"p":6,"s":"B","x":-0.3,"y":-0.39,"l":-0.47,"h":-0.31},
{"p":6,"s":"B","x":-0.25,"y":-0.51,"l":-0.61,"h":-0.41},
{"p":6,"s":"B","x":-0.2,"y":-0.69,"l":-0.81,"h":-0.57},
{"p":6,"s":"B","x":-0.15,"y":-0.84,"l":-0.99,"h":-0.69},
{"p":6,"s":"B","x":-0.1,"y":-0.8,"l":-0.96,"h":-0.64},
{"p":6,"s":"B","x":-0.05,"y":-0.39,"l":-0.56,"h":-0.22},
{"p":6,"s":"B","x":-0.02,"y":0.56,"l":0.38,"h":0.74},
{"p":6,"s":"B","x":-0.005,"y":1.8,"l":1.62,"h":1.98},
{"p":6,"s":"B","x":0,"y":3,"l":2.82,"h":3.18},
{"p":6,"s":"B","x":0.005,"y":3.22,"l":3.02,"h":3.42},
{"p":6,"s":"B","x":0.02,"y":3.45,"l":3.25,"h":3.65},
{"p":6,"s":"B","x":0.05,"y":3.69,"l":3.51,"h":3.87},
{"p":6,"s":"B","x":0.1,"y":3.73,"l":3.58,"h":3.88},
{"p":6,"s":"B","x":0.15,"y":3.49,"l":3.36,"h":3.62},
{"p":6,"s":"B","x":0.2,"y":3.1,"l":2.99,"h":3.21},
{"p":6,"s":"B","x":0.25,"y":2.63,"l":2.53,"h":2.73},
{"p":6,"s":"B","x":0.3,"y":2.21,"l":2.12,"h":2.3},
{"p":6,"s":"B","x":0.35,"y":1.8,"l":1.72,"h":1.88},
{"p":6,"s":"B","x":0.4,"y":1.5,"l":1.42,"h":1.58},
{"p":6,"s":"B","x":0.45,"y":1.21,"l":1.14,"h":1.28},
{"p":6,"s":"B","x":0.5,"y":1.03,"l":0.96,"h":1.1},
{"p":6,"s":"B","x":0.6,"y":0.79,"l":0.73,"h":0.85},
{"p":6,"s":"B","x":0.7,"y":0.67,"l":0.61,"h":0.73},
{"p":6,"s":"B","x":0.8,"y":0.53,"l":0.47,"h":0.59},
{"p":6,"s":"B","x":0.9,"y":0.38,"l":0.32,"h":0.44},
{"p":6,"s":"B","x":1,"y":0.14,"l":0.08,"h":0.2},
{"p":6,"s":"R","x":-1,"y":0,"l":-0.06,"h":0.06},
{"p":6,"s":"R","x":-0.9,"y":-0.13,"l":-0.19,"h":-0.07},
{"p":6,"s":"R","x":-0.75,"y":-0.18,"l":-0.24,"h":-0.12},
{"p":6,"s":"R","x":-0.6,"y":-0.1,"l":-0.16,"h":-0.04},
{"p":6,"s":"R","x":-0.5,"y":-0.06,"l":-0.12,"h":0},
{"p":6,"s":"R","x":-0.4,"y":-0.15,"l":-0.22,"h":-0.08},
{"p":6,"s":"R","x":-0.3,"y":-0.37,"l":-0.45,"h":-0.29},
{"p":6,"s":"R","x":-0.25,"y":-0.51,"l":-0.61,"h":-0.41},
{"p":6,"s":"R","x":-0.2,"y":-0.72,"l":-0.84,"h":-0.6},
{"p":6,"s":"R","x":-0.15,"y":-0.89,"l":-1.03,"h":-0.75},
{"p":6,"s":"R","x":-0.1,"y":-0.86,"l":-1.01,"h":-0.71},
{"p":6,"s":"R","x":-0.05,"y":-0.51,"l":-0.67,"h":-0.35},
{"p":6,"s":"R","x":-0.02,"y":0.67,"l":0.49,"h":0.85},
{"p":6,"s":"R","x":-0.005,"y":2,"l":1.82,"h":2.18},
{"p":6,"s":"R","x":0,"y":3.2,"l":3.02,"h":3.38},
{"p":6,"s":"R","x":0.005,"y":3.4,"l":3.18,"h":3.62},
{"p":6,"s":"R","x":0.02,"y":3.63,"l":3.41,"h":3.85},
{"p":6,"s":"R","x":0.05,"y":3.87,"l":3.65,"h":4.09},
{"p":6,"s":"R","x":0.1,"y":3.9,"l":3.7,"h":4.1},
{"p":6,"s":"R","x":0.15,"y":3.61,"l":3.43,"h":3.79},
{"p":6,"s":"R","x":0.2,"y":3.14,"l":2.99,"h":3.29},
{"p":6,"s":"R","x":0.25,"y":2.63,"l":2.51,"h":2.75},
{"p":6,"s":"R","x":0.3,"y":2.2,"l":2.1,"h":2.3},
{"p":6,"s":"R","x":0.35,"y":1.74,"l":1.65,"h":1.83},
{"p":6,"s":"R","x":0.4,"y":1.33,"l":1.25,"h":1.41},
{"p":6,"s":"R","x":0.45,"y":0.97,"l":0.9,"h":1.04},
{"p":6,"s":"R","x":0.5,"y":0.67,"l":0.6,"h":0.74},
{"p":6,"s":"R","x":0.6,"y":0.41,"l":0.35,"h":0.47},
{"p":6,"s":"R","x":0.7,"y":0.4,"l":0.34,"h":0.46},
{"p":6,"s":"R","x":0.8,"y":0.46,"l":0.4,"h":0.52},
{"p":6,"s":"R","x":0.9,"y":0.44,"l":0.38,"h":0.5},
{"p":6,"s":"R","x":1,"y":0.3,"l":0.24,"h":0.36},
{"p":6,"s":"G","x":-1,"y":-0.1,"l":-0.16,"h":-0.04},
{"p":6,"s":"G","x":-0.9,"y":-0.15,"l":-0.21,"h":-0.09},
{"p":6,"s":"G","x":-0.75,"y":-0.11,"l":-0.17,"h":-0.05},
{"p":6,"s":"G","x":-0.6,"y":-0.06,"l":-0.12,"h":0},
{"p":6,"s":"G","x":-0.5,"y":-0.13,"l":-0.19,"h":-0.07},
{"p":6,"s":"G","x":-0.4,"y":-0.33,"l":-0.4,"h":-0.26},
{"p":6,"s":"G","x":-0.3,"y":-0.49,"l":-0.57,"h":-0.41},
{"p":6,"s":"G","x":-0.25,"y":-0.57,"l":-0.67,"h":-0.47},
{"p":6,"s":"G","x":-0.2,"y":-0.72,"l":-0.84,"h":-0.6},
{"p":6,"s":"G","x":-0.15,"y":-0.69,"l":-0.83,"h":-0.55},
{"p":6,"s":"G","x":-0.1,"y":-0.51,"l":-0.69,"h":-0.33},
{"p":6,"s":"G","x":-0.05,"y":0.2,"l":-0.02,"h":0.42},
{"p":6,"s":"G","x":-0.02,"y":1.5,"l":1.28,"h":1.72},
{"p":6,"s":"G","x":-0.005,"y":2.6,"l":2.4,"h":2.8},
{"p":6,"s":"G","x":0,"y":4.3,"l":4.2,"h":4.4},
{"p":6,"s":"G","x":0.005,"y":3.45,"l":3.3,"h":3.6},
{"p":6,"s":"G","x":0.02,"y":3.5,"l":3.35,"h":3.65},
{"p":6,"s":"G","x":0.05,"y":3.63,"l":3.49,"h":3.77},
{"p":6,"s":"G","x":0.1,"y":3.6,"l":3.47,"h":3.73},
{"p":6,"s":"G","x":0.15,"y":3.4,"l":3.28,"h":3.52},
{"p":6,"s":"G","x":0.2,"y":3.04,"l":2.93,"h":3.15},
{"p":6,"s":"G","x":0.25,"y":2.6,"l":2.5,"h":2.7},
{"p":6,"s":"G","x":0.3,"y":2.2,"l":2.11,"h":2.29},
{"p":6,"s":"G","x":0.35,"y":1.76,"l":1.68,"h":1.84},
{"p":6,"s":"G","x":0.4,"y":1.44,"l":1.36,"h":1.52},
{"p":6,"s":"G","x":0.45,"y":1.09,"l":1.02,"h":1.16},
{"p":6,"s":"G","x":0.5,"y":0.79,"l":0.72,"h":0.86},
{"p":6,"s":"G","x":0.6,"y":0.44,"l":0.38,"h":0.5},
{"p":6,"s":"G","x":0.7,"y":0.38,"l":0.32,"h":0.44},
{"p":6,"s":"G","x":0.8,"y":0.38,"l":0.32,"h":0.44},
{"p":6,"s":"G","x":0.9,"y":0.38,"l":0.32,"h":0.44},
{"p":6,"s":"G","x":1,"y":0.32,"l":0.26,"h":0.38}
]},
"concat": [
{"width": 520, "height": 240, "layer": [
 {"data": {"values": [{}]}, "mark": {"type": "rule", "color": "#999999", "strokeWidth": 1.5}, "encoding": {"y": {"datum": 0, "type": "quantitative"}}},
 {"data": {"values": [{}]}, "mark": {"type": "rule", "color": "#999999", "strokeWidth": 1.5}, "encoding": {"x": {"datum": 0, "type": "quantitative"}}},
 {"data": {"name": "d"}, "transform": [{"filter": "datum.p == 1"}], "mark": {"type": "area", "fillOpacity": 0.3, "interpolate": "monotone", "clip": true},
  "encoding": {
   "x": {"field": "x", "type": "quantitative", "scale": {"domain": [-1, 1], "nice": false, "zero": false}, "axis": {"values": [-1,-0.75,-0.5,-0.25,0,0.25,0.5,0.75,1], "labels": false, "title": null}},
   "y": {"field": "l", "type": "quantitative", "scale": {"domain": [-3, 20], "nice": false, "zero": false}, "axis": {"orient": "left", "values": [0,5,10,15,20], "labelExpr": "'' + datum.value", "title": "qᵘ⁺ᵈ(x)"}},
   "y2": {"field": "h"},
   "fill": {"field": "s", "type": "nominal", "scale": {"domain": ["B","R","G"], "range": ["#0000ff","#ff0000","#008000"]}, "legend": {"title": null, "orient": "top-right", "labelExpr": "datum.value == 'B' ? 'BGFT' : datum.value == 'R' ? 'zₘₐₓ/a\u2002=\u200212' : 'zₘₐₓ/a\u2002=\u200214'"}}
  }},
 {"data": {"name": "d"}, "transform": [{"filter": "datum.p == 1"}], "mark": {"type": "line", "strokeWidth": 1.6, "interpolate": "monotone", "clip": true},
  "encoding": {
   "x": {"field": "x", "type": "quantitative", "axis": {"values": [-1,-0.75,-0.5,-0.25,0,0.25,0.5,0.75,1], "labels": false, "title": null}},
   "y": {"field": "y", "type": "quantitative", "axis": {"orient": "left", "values": [0,5,10,15,20], "labelExpr": "'' + datum.value", "title": "qᵘ⁺ᵈ(x)"}},
   "stroke": {"field": "s", "type": "nominal", "scale": {"domain": ["B","R","G"], "range": ["#0000ff","#ff0000","#008000"]}, "legend": null},
   "strokeDash": {"field": "s", "type": "nominal", "scale": {"domain": ["B","R","G"], "range": [[1.5,2.5],[5.5,2.4],[9.6,2.4,1.5,2.4]]}, "legend": null}
  }}
]},
{"width": 520, "height": 240, "layer": [
 {"data": {"values": [{}]}, "mark": {"type": "rule", "color": "#999999", "strokeWidth": 1.5}, "encoding": {"y": {"datum": 0, "type": "quantitative"}}},
 {"data": {"values": [{}]}, "mark": {"type": "rule", "color": "#999999", "strokeWidth": 1.5}, "encoding": {"x": {"datum": 0, "type": "quantitative"}}},
 {"data": {"name": "d"}, "transform": [{"filter": "datum.p == 2"}], "mark": {"type": "area", "fillOpacity": 0.3, "interpolate": "monotone", "clip": true},
  "encoding": {
   "x": {"field": "x", "type": "quantitative", "scale": {"domain": [-1, 1], "nice": false, "zero": false}, "axis": {"values": [-1,-0.75,-0.5,-0.25,0,0.25,0.5,0.75,1], "labels": false, "title": null}},
   "y": {"field": "l", "type": "quantitative", "scale": {"domain": [-1, 8], "nice": false, "zero": false}, "axis": {"orient": "right", "values": [0,2,4,6,8], "labelExpr": "'' + datum.value", "title": "qᵘ⁻ᵈ(x)", "titleAngle": 270, "titleBaseline": "top", "titlePadding": 16}},
   "y2": {"field": "h"},
   "fill": {"field": "s", "type": "nominal", "scale": {"domain": ["B","R","G"], "range": ["#0000ff","#ff0000","#008000"]}, "legend": {"title": null, "orient": "top-right", "labelExpr": "datum.value == 'B' ? 'BGFT' : datum.value == 'R' ? 'zₘₐₓ/a\u2002=\u200210' : 'zₘₐₓ/a\u2002=\u200212'"}}
  }},
 {"data": {"name": "d"}, "transform": [{"filter": "datum.p == 2"}], "mark": {"type": "line", "strokeWidth": 1.6, "interpolate": "monotone", "clip": true},
  "encoding": {
   "x": {"field": "x", "type": "quantitative", "axis": {"values": [-1,-0.75,-0.5,-0.25,0,0.25,0.5,0.75,1], "labels": false, "title": null}},
   "y": {"field": "y", "type": "quantitative", "axis": {"orient": "right", "values": [0,2,4,6,8], "labelExpr": "'' + datum.value", "title": "qᵘ⁻ᵈ(x)", "titleAngle": 270, "titleBaseline": "top", "titlePadding": 16}},
   "stroke": {"field": "s", "type": "nominal", "scale": {"domain": ["B","R","G"], "range": ["#0000ff","#ff0000","#008000"]}, "legend": null},
   "strokeDash": {"field": "s", "type": "nominal", "scale": {"domain": ["B","R","G"], "range": [[1.5,2.5],[5.5,2.4],[9.6,2.4,1.5,2.4]]}, "legend": null}
  }}
]},
{"width": 520, "height": 240, "layer": [
 {"data": {"values": [{}]}, "mark": {"type": "rule", "color": "#999999", "strokeWidth": 1.5}, "encoding": {"y": {"datum": 0, "type": "quantitative"}}},
 {"data": {"values": [{}]}, "mark": {"type": "rule", "color": "#999999", "strokeWidth": 1.5}, "encoding": {"x": {"datum": 0, "type": "quantitative"}}},
 {"data": {"name": "d"}, "transform": [{"filter": "datum.p == 3"}], "mark": {"type": "area", "fillOpacity": 0.3, "interpolate": "monotone", "clip": true},
  "encoding": {
   "x": {"field": "x", "type": "quantitative", "scale": {"domain": [-1, 1], "nice": false, "zero": false}, "axis": {"values": [-1,-0.75,-0.5,-0.25,0,0.25,0.5,0.75,1], "labels": false, "title": null}},
   "y": {"field": "l", "type": "quantitative", "scale": {"domain": [-1, 4], "nice": false, "zero": false}, "axis": {"orient": "left", "values": [-1,0,1,2,3,4], "labelExpr": "'' + datum.value", "title": "Δqᵘ⁺ᵈ(x)"}},
   "y2": {"field": "h"},
   "fill": {"field": "s", "type": "nominal", "scale": {"domain": ["B","R","G"], "range": ["#0000ff","#ff0000","#008000"]}, "legend": {"title": null, "orient": "top-left", "labelExpr": "datum.value == 'B' ? 'BGFT' : datum.value == 'R' ? 'zₘₐₓ/a\u2002=\u200210' : 'zₘₐₓ/a\u2002=\u200212'"}}
  }},
 {"data": {"name": "d"}, "transform": [{"filter": "datum.p == 3"}], "mark": {"type": "line", "strokeWidth": 1.6, "interpolate": "monotone", "clip": true},
  "encoding": {
   "x": {"field": "x", "type": "quantitative", "axis": {"values": [-1,-0.75,-0.5,-0.25,0,0.25,0.5,0.75,1], "labels": false, "title": null}},
   "y": {"field": "y", "type": "quantitative", "axis": {"orient": "left", "values": [-1,0,1,2,3,4], "labelExpr": "'' + datum.value", "title": "Δqᵘ⁺ᵈ(x)"}},
   "stroke": {"field": "s", "type": "nominal", "scale": {"domain": ["B","R","G"], "range": ["#0000ff","#ff0000","#008000"]}, "legend": null},
   "strokeDash": {"field": "s", "type": "nominal", "scale": {"domain": ["B","R","G"], "range": [[1.5,2.5],[5.5,2.4],[9.6,2.4,1.5,2.4]]}, "legend": null}
  }}
]},
{"width": 520, "height": 240, "layer": [
 {"data": {"values": [{}]}, "mark": {"type": "rule", "color": "#999999", "strokeWidth": 1.5}, "encoding": {"y": {"datum": 0, "type": "quantitative"}}},
 {"data": {"values": [{}]}, "mark": {"type": "rule", "color": "#999999", "strokeWidth": 1.5}, "encoding": {"x": {"datum": 0, "type": "quantitative"}}},
 {"data": {"name": "d"}, "transform": [{"filter": "datum.p == 4"}], "mark": {"type": "area", "fillOpacity": 0.3, "interpolate": "monotone", "clip": true},
  "encoding": {
   "x": {"field": "x", "type": "quantitative", "scale": {"domain": [-1, 1], "nice": false, "zero": false}, "axis": {"values": [-1,-0.75,-0.5,-0.25,0,0.25,0.5,0.75,1], "labels": false, "title": null}},
   "y": {"field": "l", "type": "quantitative", "scale": {"domain": [-1.2, 6], "nice": false, "zero": false}, "axis": {"orient": "right", "values": [0,2,4,6], "labelExpr": "'' + datum.value", "title": "Δqᵘ⁻ᵈ(x)", "titleAngle": 270, "titleBaseline": "top", "titlePadding": 16}},
   "y2": {"field": "h"},
   "fill": {"field": "s", "type": "nominal", "scale": {"domain": ["B","R","G"], "range": ["#0000ff","#ff0000","#008000"]}, "legend": {"title": null, "orient": "top-left", "labelExpr": "datum.value == 'B' ? 'BGFT' : datum.value == 'R' ? 'zₘₐₓ/a\u2002=\u200212' : 'zₘₐₓ/a\u2002=\u200214'"}}
  }},
 {"data": {"name": "d"}, "transform": [{"filter": "datum.p == 4"}], "mark": {"type": "line", "strokeWidth": 1.6, "interpolate": "monotone", "clip": true},
  "encoding": {
   "x": {"field": "x", "type": "quantitative", "axis": {"values": [-1,-0.75,-0.5,-0.25,0,0.25,0.5,0.75,1], "labels": false, "title": null}},
   "y": {"field": "y", "type": "quantitative", "axis": {"orient": "right", "values": [0,2,4,6], "labelExpr": "'' + datum.value", "title": "Δqᵘ⁻ᵈ(x)", "titleAngle": 270, "titleBaseline": "top", "titlePadding": 16}},
   "stroke": {"field": "s", "type": "nominal", "scale": {"domain": ["B","R","G"], "range": ["#0000ff","#ff0000","#008000"]}, "legend": null},
   "strokeDash": {"field": "s", "type": "nominal", "scale": {"domain": ["B","R","G"], "range": [[1.5,2.5],[5.5,2.4],[9.6,2.4,1.5,2.4]]}, "legend": null}
  }}
]},
{"width": 520, "height": 240, "layer": [
 {"data": {"values": [{}]}, "mark": {"type": "rule", "color": "#999999", "strokeWidth": 1.5}, "encoding": {"y": {"datum": 0, "type": "quantitative"}}},
 {"data": {"values": [{}]}, "mark": {"type": "rule", "color": "#999999", "strokeWidth": 1.5}, "encoding": {"x": {"datum": 0, "type": "quantitative"}}},
 {"data": {"name": "d"}, "transform": [{"filter": "datum.p == 5"}], "mark": {"type": "area", "fillOpacity": 0.3, "interpolate": "monotone", "clip": true},
  "encoding": {
   "x": {"field": "x", "type": "quantitative", "scale": {"domain": [-1, 1], "nice": false, "zero": false}, "axis": {"values": [-1,-0.75,-0.5,-0.25,0,0.25,0.5,0.75,1], "labelExpr": "'' + datum.value", "title": "x", "titlePadding": 4}},
   "y": {"field": "l", "type": "quantitative", "scale": {"domain": [-1, 5], "nice": false, "zero": false}, "axis": {"orient": "left", "values": [0,1,2,3,4], "labelExpr": "'' + datum.value", "title": "δqᵘ⁺ᵈ(x)"}},
   "y2": {"field": "h"},
   "fill": {"field": "s", "type": "nominal", "scale": {"domain": ["B","R","G"], "range": ["#0000ff","#ff0000","#008000"]}, "legend": {"title": null, "orient": "top-right", "labelExpr": "datum.value == 'B' ? 'BGFT' : datum.value == 'R' ? 'zₘₐₓ/a\u2002=\u200210' : 'zₘₐₓ/a\u2002=\u200212'"}}
  }},
 {"data": {"name": "d"}, "transform": [{"filter": "datum.p == 5"}], "mark": {"type": "line", "strokeWidth": 1.6, "interpolate": "monotone", "clip": true},
  "encoding": {
   "x": {"field": "x", "type": "quantitative", "axis": {"values": [-1,-0.75,-0.5,-0.25,0,0.25,0.5,0.75,1], "labelExpr": "'' + datum.value", "title": "x", "titlePadding": 4}},
   "y": {"field": "y", "type": "quantitative", "axis": {"orient": "left", "values": [0,1,2,3,4], "labelExpr": "'' + datum.value", "title": "δqᵘ⁺ᵈ(x)"}},
   "stroke": {"field": "s", "type": "nominal", "scale": {"domain": ["B","R","G"], "range": ["#0000ff","#ff0000","#008000"]}, "legend": null},
   "strokeDash": {"field": "s", "type": "nominal", "scale": {"domain": ["B","R","G"], "range": [[1.5,2.5],[5.5,2.4],[9.6,2.4,1.5,2.4]]}, "legend": null}
  }}
]},
{"width": 520, "height": 240, "layer": [
 {"data": {"values": [{}]}, "mark": {"type": "rule", "color": "#999999", "strokeWidth": 1.5}, "encoding": {"y": {"datum": 0, "type": "quantitative"}}},
 {"data": {"values": [{}]}, "mark": {"type": "rule", "color": "#999999", "strokeWidth": 1.5}, "encoding": {"x": {"datum": 0, "type": "quantitative"}}},
 {"data": {"name": "d"}, "transform": [{"filter": "datum.p == 6"}], "mark": {"type": "area", "fillOpacity": 0.3, "interpolate": "monotone", "clip": true},
  "encoding": {
   "x": {"field": "x", "type": "quantitative", "scale": {"domain": [-1, 1], "nice": false, "zero": false}, "axis": {"values": [-1,-0.75,-0.5,-0.25,0,0.25,0.5,0.75,1], "labelExpr": "'' + datum.value", "title": "x", "titlePadding": 4}},
   "y": {"field": "l", "type": "quantitative", "scale": {"domain": [-1.5, 7], "nice": false, "zero": false}, "axis": {"orient": "right", "values": [0,2,4,6], "labelExpr": "'' + datum.value", "title": "δqᵘ⁻ᵈ(x)", "titleAngle": 270, "titleBaseline": "top", "titlePadding": 16}},
   "y2": {"field": "h"},
   "fill": {"field": "s", "type": "nominal", "scale": {"domain": ["B","R","G"], "range": ["#0000ff","#ff0000","#008000"]}, "legend": {"title": null, "orient": "top-left", "labelExpr": "datum.value == 'B' ? 'BGFT' : datum.value == 'R' ? 'zₘₐₓ/a\u2002=\u200211' : 'zₘₐₓ/a\u2002=\u200213'"}}
  }},
 {"data": {"name": "d"}, "transform": [{"filter": "datum.p == 6"}], "mark": {"type": "line", "strokeWidth": 1.6, "interpolate": "monotone", "clip": true},
  "encoding": {
   "x": {"field": "x", "type": "quantitative", "axis": {"values": [-1,-0.75,-0.5,-0.25,0,0.25,0.5,0.75,1], "labelExpr": "'' + datum.value", "title": "x", "titlePadding": 4}},
   "y": {"field": "y", "type": "quantitative", "axis": {"orient": "right", "values": [0,2,4,6], "labelExpr": "'' + datum.value", "title": "δqᵘ⁻ᵈ(x)", "titleAngle": 270, "titleBaseline": "top", "titlePadding": 16}},
   "stroke": {"field": "s", "type": "nominal", "scale": {"domain": ["B","R","G"], "range": ["#0000ff","#ff0000","#008000"]}, "legend": null},
   "strokeDash": {"field": "s", "type": "nominal", "scale": {"domain": ["B","R","G"], "range": [[1.5,2.5],[5.5,2.4],[9.6,2.4,1.5,2.4]]}, "legend": null}
  }}
]}
]
}
